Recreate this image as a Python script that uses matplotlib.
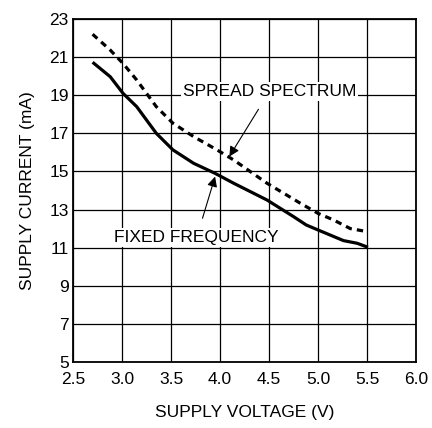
import numpy as np
import matplotlib.pyplot as plt

plt.rcParams.update({
    "font.family": ["Liberation Sans", "DejaVu Sans"],
    "font.size": 12.5,
})

# fixed frequency curve
v_fixed = [2.70, 2.88, 3.01, 3.15, 3.35, 3.52, 3.73, 3.95, 4.14, 4.48, 4.75,
           4.88, 5.00, 5.26, 5.40, 5.51]
i_fixed = [20.73, 19.97, 19.10, 18.40, 17.00, 16.13, 15.43, 14.90, 14.38,
           13.50, 12.63, 12.19, 11.93, 11.37, 11.23, 11.02]

# spread spectrum curve
v_spread = [2.70, 2.88, 3.01, 3.15, 3.35, 3.52, 3.73, 3.97, 4.14, 4.48, 4.82,
            5.00, 5.16, 5.33, 5.46]
i_spread = [22.20, 21.37, 20.67, 19.80, 18.40, 17.53, 16.83, 16.13, 15.60,
            14.38, 13.33, 12.80, 12.45, 12.00, 11.88]

xticks = [2.5, 3.0, 3.5, 4.0, 4.5, 5.0, 5.5, 6.0]
yticks = [5, 7, 9, 11, 13, 15, 17, 19, 21, 23]

fig = plt.figure(figsize=(4.32, 4.28), dpi=100)
ax = fig.add_axes([73/432, 1 - 362/428, 343/432, 343/428])

ax.plot(v_fixed, i_fixed, color="black", lw=2.3, solid_capstyle="butt")
ax.plot(v_spread, i_spread, color="black", lw=2.3, dashes=(2.0, 1.6))

ax.set_xlim(2.5, 6.0)
ax.set_ylim(5, 23)
ax.set_xticks(xticks)
ax.set_xticklabels(["%.1f" % t for t in xticks])
ax.set_yticks(yticks)
ax.tick_params(axis="x", length=0, pad=7)
ax.tick_params(axis="y", length=0, pad=3)
ax.grid(True, color="black", lw=0.9)
ax.set_axisbelow(True)
for s in ax.spines.values():
    s.set_linewidth(1.3)

ax.set_xlabel("SUPPLY VOLTAGE (V)", labelpad=13)
ax.set_ylabel("SUPPLY CURRENT (mA)", labelpad=10)

box = dict(facecolor="white", edgecolor="none", pad=1.5)
arrow = dict(arrowstyle="-|>", color="black", lw=0.8,
             shrinkA=7, shrinkB=0, mutation_scale=15)
ax.annotate("SPREAD SPECTRUM", xy=(4.095, 15.78), xytext=(4.505, 19.2),
            ha="center", va="center", bbox=box, arrowprops=arrow)
ax.annotate("FIXED FREQUENCY", xy=(3.95, 14.73), xytext=(3.763, 11.55),
            ha="center", va="center", bbox=box, arrowprops=arrow)

fig.savefig("out.png", dpi=100)
